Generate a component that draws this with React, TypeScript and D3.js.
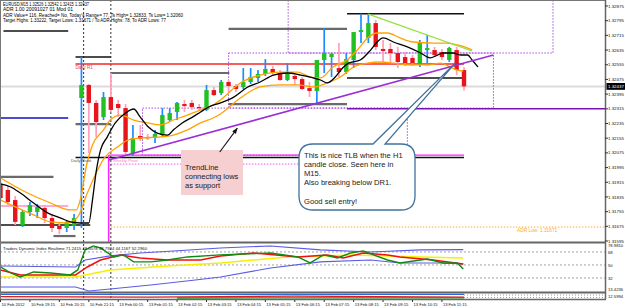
import React from "react";
import * as d3 from "d3";

// EURUSD M15 bars, 10 Feb 18:15 .. 13 Feb 12:00
const barTimes = [
  "10 Feb 18:15", "10 Feb 18:30", "10 Feb 18:45", "10 Feb 19:00", "10 Feb 19:15", "10 Feb 19:30", "10 Feb 19:45", "10 Feb 20:00",
  "10 Feb 20:15", "10 Feb 20:30", "10 Feb 20:45", "10 Feb 21:00", "10 Feb 21:15", "10 Feb 21:30", "10 Feb 21:45",
  "13 Feb 00:00", "13 Feb 00:15", "13 Feb 00:30", "13 Feb 00:45", "13 Feb 01:00", "13 Feb 01:15", "13 Feb 01:30", "13 Feb 01:45",
  "13 Feb 02:00", "13 Feb 02:15", "13 Feb 02:30", "13 Feb 02:45", "13 Feb 03:00", "13 Feb 03:15", "13 Feb 03:30", "13 Feb 03:45",
  "13 Feb 04:00", "13 Feb 04:15", "13 Feb 04:30", "13 Feb 04:45", "13 Feb 05:00", "13 Feb 05:15", "13 Feb 05:30", "13 Feb 05:45",
  "13 Feb 06:00", "13 Feb 06:15", "13 Feb 06:30", "13 Feb 06:45", "13 Feb 07:00", "13 Feb 07:15", "13 Feb 07:30", "13 Feb 07:45",
  "13 Feb 08:00", "13 Feb 08:15", "13 Feb 08:30", "13 Feb 08:45", "13 Feb 09:00", "13 Feb 09:15", "13 Feb 09:30", "13 Feb 09:45",
  "13 Feb 10:00", "13 Feb 10:15", "13 Feb 10:30", "13 Feb 10:45", "13 Feb 11:00", "13 Feb 11:15", "13 Feb 11:30", "13 Feb 11:45",
  "13 Feb 12:00",
];

const axisLabels = [
  "10 Feb 2012", "10 Feb 19:15", "10 Feb 20:15", "10 Feb 21:15", "13 Feb 00:15", "13 Feb 01:15", "13 Feb 02:15", "13 Feb 03:15",
  "13 Feb 04:15", "13 Feb 05:15", "13 Feb 06:15", "13 Feb 07:15", "13 Feb 08:15", "13 Feb 09:15", "13 Feb 10:15", "13 Feb 11:15",
];

const opens = [
  1.31906, 1.31873, 1.31818, 1.31682, 1.31753, 1.31753, 1.31775, 1.3172, 1.31677, 1.31666, 1.31677, 1.32374, 1.32445, 1.32347, 1.3227,
  1.32379, 1.32341, 1.32319, 1.32074, 1.32167, 1.32161, 1.32156, 1.32172, 1.32254, 1.32298, 1.32341, 1.32347, 1.32325, 1.32309, 1.32417,
  1.32401, 1.32461, 1.32439, 1.32434, 1.32461, 1.32483, 1.32505, 1.32532, 1.3251, 1.32472, 1.32494, 1.32477, 1.32428, 1.32412, 1.32581,
  1.32597, 1.32537, 1.32515, 1.32581, 1.32733, 1.32701, 1.32782, 1.32641, 1.32641, 1.32619, 1.32597, 1.32592, 1.32554, 1.32635, 1.32635,
  1.32624, 1.32581, 1.32635, 1.32526,
];
const highs = [
  1.31927, 1.31895, 1.3184, 1.31764, 1.31807, 1.31797, 1.31791, 1.31742, 1.31699, 1.31709, 1.31742, 1.32597, 1.3245, 1.32363, 1.32407,
  1.3251, 1.32363, 1.32341, 1.32227, 1.32227, 1.32178, 1.322, 1.32319, 1.32319, 1.32352, 1.32363, 1.32363, 1.32341, 1.32445, 1.32434,
  1.32472, 1.32472, 1.3245, 1.32537, 1.32537, 1.32526, 1.32586, 1.32548, 1.32526, 1.32564, 1.32499, 1.32488, 1.32461, 1.32581, 1.32755,
  1.32619, 1.32673, 1.32619, 1.32733, 1.32833, 1.32833, 1.32799, 1.3269, 1.32673, 1.32652, 1.32624, 1.32608, 1.3269, 1.32717, 1.32652,
  1.32641, 1.32652, 1.32652, 1.32542,
];
const lows = [
  1.31818, 1.31791, 1.31682, 1.31671, 1.31731, 1.3172, 1.31693, 1.31644, 1.31633, 1.31644, 1.31655, 1.31666, 1.32074, 1.32161, 1.32254,
  1.32298, 1.3227, 1.3206, 1.3206, 1.3214, 1.32145, 1.32129, 1.32161, 1.32243, 1.32254, 1.32298, 1.32309, 1.32309, 1.32303, 1.32385,
  1.3239, 1.32407, 1.32407, 1.32423, 1.3245, 1.32461, 1.32494, 1.32499, 1.32466, 1.32466, 1.32445, 1.32417, 1.32379, 1.32347, 1.3251,
  1.32488, 1.32488, 1.32505, 1.32537, 1.32673, 1.32673, 1.32635, 1.3257, 1.32564, 1.32537, 1.32548, 1.32548, 1.32543, 1.32564, 1.32597,
  1.32581, 1.3257, 1.32499, 1.32415,
];
const closes = [
  1.31829, 1.31807, 1.31699, 1.31753, 1.31791, 1.3178, 1.3172, 1.31666, 1.3166, 1.31699, 1.3172, 1.32445, 1.32347, 1.32243, 1.32379,
  1.32309, 1.32319, 1.3208, 1.32156, 1.32151, 1.32156, 1.32178, 1.32281, 1.32292, 1.32347, 1.3233, 1.32325, 1.32319, 1.32417, 1.3239,
  1.32461, 1.32439, 1.32423, 1.32461, 1.32488, 1.32505, 1.32532, 1.3251, 1.32472, 1.32505, 1.32477, 1.32423, 1.32412, 1.32581, 1.32619,
  1.32614, 1.32515, 1.32586, 1.32733, 1.32744, 1.32782, 1.32652, 1.3263, 1.32619, 1.3257, 1.32564, 1.32564, 1.32679, 1.32646, 1.32608,
  1.32597, 1.32646, 1.32526, 1.32437,
];

// [bar, price]
const maBlack = [
  [0, 1.31906], [1.4, 1.31889], [2.7, 1.31856], [4.5, 1.31802], [6.4, 1.31748], [8.2, 1.3172], [9.5, 1.31699], [10.9, 1.31693],
  [12.0, 1.31693], [12.5, 1.31818], [13.0, 1.31971], [13.6, 1.32091], [14.5, 1.32161], [15.6, 1.32238], [17.0, 1.32292],
  [18.1, 1.32314], [19.0, 1.3227], [20.1, 1.32216], [21.3, 1.32183], [22.7, 1.32172], [23.5, 1.322], [24.7, 1.32238],
  [26.1, 1.3227], [27.2, 1.32298], [28.3, 1.32325], [29.9, 1.32347], [31.7, 1.32379], [33.6, 1.32434], [35.3, 1.32461],
  [37.1, 1.32499], [39.0, 1.3251], [40.8, 1.32499], [42.1, 1.32488], [43.5, 1.32472], [44.4, 1.32456], [45.5, 1.32488],
  [46.5, 1.32537], [47.3, 1.32564], [48.9, 1.32581], [50.3, 1.32635], [51.2, 1.32679], [52.0, 1.32701], [53.4, 1.32679],
  [55.3, 1.32652], [57.1, 1.32619], [58.4, 1.32592], [59.4, 1.32608], [60.2, 1.32619], [61.5, 1.32619], [62.5, 1.32608],
  [63.5, 1.32608], [64.1, 1.32581], [64.9, 1.32543],
];
const bandUpper = [
  [0, 1.31938], [3.4, 1.31862], [6.8, 1.31802], [9.5, 1.31764], [10.3, 1.31764], [10.9, 1.31829], [11.7, 1.32009],
  [12.5, 1.32118], [14.0, 1.322], [14.9, 1.32254], [16.3, 1.32281], [18.1, 1.32254], [20.0, 1.32238], [21.7, 1.32227],
  [23.5, 1.32254], [25.4, 1.32281], [27.2, 1.32309], [28.9, 1.32336], [29.9, 1.32363], [32.6, 1.32456], [35.3, 1.32499],
  [38.0, 1.32515], [40.4, 1.32515], [42.1, 1.32488], [43.5, 1.32483], [45.2, 1.32543], [47.1, 1.32581], [48.5, 1.32635],
  [49.9, 1.32701], [51.2, 1.32728], [52.6, 1.32728], [54.3, 1.32701], [56.1, 1.32679], [58.8, 1.32673], [60.7, 1.32673],
  [62.1, 1.32663], [63.5, 1.32646], [64.1, 1.32635],
];
const bandLower = [
  [0, 1.31818], [4.5, 1.31737], [6.8, 1.31699], [9.1, 1.31693], [10.5, 1.31726], [11.8, 1.31856], [13.2, 1.31982],
  [14.1, 1.32047], [15.9, 1.32107], [17.3, 1.32145], [19.0, 1.32156], [21.3, 1.32161], [23.5, 1.32172], [25.4, 1.322],
  [27.2, 1.32238], [28.9, 1.32265], [29.9, 1.32287], [32.6, 1.32374], [35.3, 1.32434], [38.0, 1.32445], [40.4, 1.32445],
  [42.5, 1.32434], [44.4, 1.32456], [46.2, 1.32488], [48.0, 1.32543], [49.9, 1.32564], [51.6, 1.3257], [53.4, 1.32564],
  [55.3, 1.32554], [58.0, 1.32554], [59.8, 1.32564], [61.1, 1.32543], [62.1, 1.32526], [62.9, 1.32521],
];

// Traders Dynamic Index [bar, value]
const tdiUpper = [[0, 48.6], [10.2, 47.2], [11.5, 56.9], [14.9, 62.5], [19.0, 66.6], [23.5, 69.4], [29.9, 73.5], [36.7, 76.3], [43.5, 70.8], [50.3, 68.0], [57.1, 70.8], [62.9, 71.2]];
const tdiLower = [[0, 19.5], [10.2, 19.5], [12.0, 14.0], [14.9, 16.7], [20.4, 22.3], [26.5, 29.2], [29.9, 33.4], [36.7, 45.8], [43.5, 54.2], [50.3, 56.9], [54.3, 52.8], [59.8, 52.8], [62.9, 51.4]];
const tdiMid = [[0, 33.4], [10.2, 33.4], [14.9, 43.1], [22.7, 48.6], [29.9, 52.8], [39.0, 61.1], [48.0, 63.9], [57.1, 61.1], [62.9, 59.7]];
const tdiSignal = [
  [0, 43.1], [2.7, 36.2], [6.8, 36.2], [10.2, 36.2], [11.8, 47.2], [13.6, 56.9], [16.3, 63.9], [19.0, 59.7], [22.7, 56.9], [27.2, 56.9],
  [29.9, 62.5], [34.4, 66.6], [40.4, 61.1], [44.4, 63.9], [46.6, 59.7], [49.3, 66.6], [52.6, 63.9], [54.3, 61.1], [58.8, 56.9], [62.9, 51.4],
];
const tdiPrice = [
  [0, 47.2], [1.4, 38.9], [2.7, 33.4], [4.5, 40.3], [6.8, 38.9], [9.5, 36.2], [10.5, 43.1], [11.5, 70.8], [12.6, 76.3], [13.6, 73.5],
  [15.4, 61.1], [16.7, 63.9], [18.1, 54.2], [20.4, 54.2], [22.7, 56.9], [25.4, 61.1], [29.9, 63.9], [36.7, 66.6], [40.4, 61.1],
  [42.1, 52.8], [43.9, 63.9], [45.8, 59.7], [47.6, 66.6], [49.3, 69.4], [50.7, 63.9], [52.6, 56.9], [54.3, 52.8], [58.0, 58.3],
  [60.2, 52.8], [62.1, 52.8], [62.9, 44.5],
];
const tdiLevels = [68, 50, 32];
const tdiRange = [13.4236, 78.981];
const stripRange = [-1.5994, 12.5994];
const stripBlue = [[0, 10.5], [63, 10.5]];
const stripRed = [[0, 4.5], [20, 3.5], [40, 6], [63, 3]];
const stripGreen = [[24, 1], [63, 1.5]];

const priceTicks = [
  "1.32875", "1.32795", "1.32715", "1.32635", "1.32555", "1.32475", "1.32395", "1.32315", "1.32235",
  "1.32155", "1.32075", "1.31995", "1.31915", "1.31835", "1.31755", "1.31675", "1.31595",
];
const lastPrice = 1.32437;

// levels [price, fromBar, toBar]
const blackLevels = [[1.32739, 0.4, 9.2], [1.32597, 10.2, 15], [1.32833, 47.1, 63], [1.32483, 47.1, 63], [1.3205, 10.2, 63], [1.31682, 0, 12.2]];
const grayLevels = [[1.3251, 15, 31.1], [1.3275, 31, 47.1], [1.32341, 31, 47.1], [1.32232, 10.2, 15], [1.31944, 0, 7.2], [1.31622, 7.2, 10.2]];
const dailyR1 = [1.32559, 10.2, 63];
const weeklyPivot = [1.32063, 14.7, 63];
const pinkLevel = [1.31786, 0, 9.2];
const blueLevel = [1.32265, 0, 9.2];
const purpleLevel = [1.32315, 47.1];
const adrLow = [1.31671, 15];
// session boxes [fromBar, toBar, high, low]
const sessionBoxes = [[19.3, 55.3, 1.32319, 1.32063], [31.0, 67.0, 1.32619, 1.32319], [39.1, 75.1, 1.3300, 1.32619]];
const pinkDotted = [1.32014, 15, 55.3];
const separators = [11.3, 15];
const purpleTrend = [[14.7, 1.32036], [67.0, 1.32608]];
const greenTrend = [[50.0, 1.32831], [64.1, 1.3263]];
const arrowPts = [[29.8, 1.3208], [32.2, 1.3221]];
const tailApex = [61.8, 1.32564];

const headerLines = [
  "EURUSD,M15  1.32526 1.32542 1.32415 1.32437",
  "ADR 1.00 20091027 01 Mod 01",
  "ADR Value= 116, Reached= No, Today's Range= 77, Ts High= 1.32833, Ts Low= 1.32060",
  "Target Highs: 1.33222, Target Lows: 1.31671 / To ADR Highs: 78, To ADR Lows: 77",
];
const headerWidths = [86, 70, 180, 163];
const bubbleLines = ["This is nice TLB when the H1", "candle close. Seen here in", "M15.", "Also breaking below DR1.", "", "Good sell entry!"];
const noteLines = ["TrendLine", "connecting lows", "as support"];

const R = 605;
const MAIN_B = 242;
const TDI_T = 243;
const TDI_B = 292;
const STRIP_B = 299;
const FONT = "'Liberation Sans', Arial, sans-serif";

export default function App() {
  const x = d3.scaleLinear().domain([0, 63]).range([0.5, 464]);
  const y = d3.scaleLinear().domain([1.31595, 1.32875]).range([241, 6]);
  const yt = d3.scaleLinear().domain(tdiRange).range([291.4, 244]);
  const ys = d3.scaleLinear().domain(stripRange).range([299, 293.5]);

  const maLine = d3.line<number[]>().x((d) => x(d[0])).y((d) => y(d[1])).curve(d3.curveMonotoneX);
  const tdiLine = d3.line<number[]>().x((d) => x(d[0])).y((d) => yt(d[1]));
  const stripLine = d3.line<number[]>().x((d) => x(d[0])).y((d) => ys(d[1]));

  const seg = (lv: number[], color: string, w: number, dash?: string, key?: any) => (
    <line key={key} x1={x(lv[1])} x2={lv[2] == null ? R : x(lv[2])} y1={y(lv[0])} y2={y(lv[0])} stroke={color} strokeWidth={w} strokeDasharray={dash} />
  );

  const ax = tailApex;
  const bubble = `M313 144 L373 144 L${x(ax[0])} ${y(ax[1])} L385 144 L401 144 Q415 144 415 158 L415 196 Q415 210 401 210 L313 210 Q299 210 299 196 L299 158 Q299 144 313 144 Z`;

  const a0 = [x(arrowPts[0][0]), y(arrowPts[0][1])];
  const a1 = [x(arrowPts[1][0]), y(arrowPts[1][1])];
  const ang = Math.atan2(a1[1] - a0[1], a1[0] - a0[0]);
  const head = [
    [a1[0], a1[1]],
    [a1[0] - 6 * Math.cos(ang - 0.4), a1[1] - 6 * Math.sin(ang - 0.4)],
    [a1[0] - 6 * Math.cos(ang + 0.4), a1[1] - 6 * Math.sin(ang + 0.4)],
  ];

  return (
    <svg width={625} height={308} style={{ position: "absolute", left: 0, top: 0, background: "#fff" }} fontFamily={FONT}>
      <rect x={0} y={0} width={625} height={308} fill="#fff" />

      {/* bid line */}
      <line x1={0} x2={R} y1={y(lastPrice)} y2={y(lastPrice)} stroke="#dcdcdc" strokeWidth={2} />

      {/* session boxes */}
      {sessionBoxes.map((b, i) => (
        <rect key={i} x={x(b[0])} y={Math.max(-2, y(b[2]))} width={x(b[1]) - x(b[0])} height={y(b[3]) - Math.max(-2, y(b[2]))}
          fill="none" stroke="#a64ee0" strokeWidth={1} strokeDasharray="1.5,1.5" />
      ))}
      {seg(pinkDotted, "#ee55ee", 1, "1.5,1.5")}

      {/* day separators */}
      {separators.map((s, i) => (
        <line key={i} x1={x(s)} x2={x(s)} y1={0} y2={STRIP_B} stroke="#333" strokeWidth={1} strokeDasharray="2,2" />
      ))}

      {/* levels */}
      {seg(pinkLevel, "#ff8cc6", 1.5)}
      {seg(blueLevel, "#1010c0", 1.3)}
      {grayLevels.map((l, i) => seg(l, "#6a6a6a", 2.2, undefined, "g" + i))}
      {blackLevels.map((l, i) => seg(l, "#111", 1.4, undefined, "b" + i))}
      {seg(dailyR1, "#f02828", 1.4)}
      {seg(weeklyPivot, "#ff22ff", 1.4)}
      {seg([adrLow[0], adrLow[1], null], "#ffab2e", 1, "1.5,1.5")}
      <line x1={x(weeklyPivot[1])} x2={x(weeklyPivot[1])} y1={y(weeklyPivot[0])} y2={MAIN_B} stroke="#ff22ff" strokeWidth={1.5} />

      {/* candles */}
      {opens.map((o, i) => {
        const c = closes[i];
        const up = c >= o;
        const cx = x(i);
        const top = y(Math.max(o, c));
        const bot = y(Math.min(o, c));
        return (
          <g key={i}>
            <line x1={cx} x2={cx} y1={y(highs[i])} y2={y(lows[i])} stroke={up ? "#1e8cff" : "#ff9fb8"} strokeWidth={1.7} />
            <rect x={cx - 2.2} y={top} width={4.4} height={Math.max(1.2, bot - top)} fill={up ? "#22c022" : "#e8141c"} />
          </g>
        );
      })}

      {/* moving averages */}
      <path d={maLine(bandUpper)!} fill="none" stroke="#ffa200" strokeWidth={1.3} />
      <path d={maLine(bandLower)!} fill="none" stroke="#ffa200" strokeWidth={1.3} />
      <path d={maLine(maBlack)!} fill="none" stroke="#000" strokeWidth={1.3} />

      {/* trendlines */}
      <line x1={x(purpleTrend[0][0])} y1={y(purpleTrend[0][1])} x2={x(purpleTrend[1][0])} y2={y(purpleTrend[1][1])} stroke="#9b2fd6" strokeWidth={1.6} />
      <line x1={x(greenTrend[0][0])} y1={y(greenTrend[0][1])} x2={x(greenTrend[1][0])} y2={y(greenTrend[1][1])} stroke="#8fe03a" strokeWidth={1.2} />
      {seg([purpleLevel[0], purpleLevel[1], null], "#7a10b8", 1.6)}

      {/* labels */}
      <text x={x(dailyR1[1])} y={y(dailyR1[0]) + 5} fontSize={4.6} fill="#f04040">Daily R1</text>
      <text x={71} y={y(blackLevels[4][0]) + 5} fontSize={4.3} fill="#555">Daily Pivot</text>
      <text x={113} y={y(blackLevels[4][0]) + 5} fontSize={4.3} fill="#ff77bb">Weekly Pivot</text>
      <text x={517} y={y(adrLow[0]) + 5} fontSize={4.8} fill="#ffab2e">ADR Low: 1.31671</text>

      {/* note box */}
      <rect x={181} y={150} width={62} height={45} fill="#f6cfd0" />
      {noteLines.map((t, i) => (
        <text key={i} x={185} y={169.5 + i * 9} fontSize={7.5} fill="#1a1a1a">{t}</text>
      ))}
      <line x1={a0[0]} y1={a0[1]} x2={a1[0]} y2={a1[1]} stroke="#111" strokeWidth={1.1} />
      <polygon points={head.map((p) => p.join(",")).join(" ")} fill="#111" />

      {/* callout */}
      <path d={bubble} fill="#fff" stroke="#41719c" strokeWidth={1.3} />
      {bubbleLines.map((t, i) => (
        <text key={i} x={304} y={157.5 + i * 9.2} fontSize={7.6} fill="#1a1a1a">{t}</text>
      ))}

      {/* header */}
      {headerLines.map((t, i) => (
        <text key={i} x={3} y={5.8 + i * 5.4} fontSize={4.8} fill="#000" textLength={headerWidths[i]} lengthAdjust="spacingAndGlyphs">{t}</text>
      ))}

      {/* TDI panel */}
      {tdiLevels.map((l) => (
        <line key={l} x1={0} x2={R} y1={yt(l)} y2={yt(l)} stroke="#8a8a8a" strokeWidth={0.8} strokeDasharray="2,2" />
      ))}
      <path d={tdiLine(tdiUpper)!} fill="none" stroke="#5b5be6" strokeWidth={1.1} />
      <path d={tdiLine(tdiLower)!} fill="none" stroke="#5b5be6" strokeWidth={1.1} />
      <path d={tdiLine(tdiMid)!} fill="none" stroke="#f5f000" strokeWidth={1.5} />
      <path d={tdiLine(tdiSignal)!} fill="none" stroke="#f01010" strokeWidth={1.5} />
      <path d={tdiLine(tdiPrice)!} fill="none" stroke="#108a10" strokeWidth={1.4} />
      <text x={3} y={249.5} fontSize={4.4} fill="#111" textLength={144} lengthAdjust="spacingAndGlyphs">
        Traders Dynamic Index Realtime 71.2415 48.0078 48.7924 44.1167 52.2960
      </text>

      {/* bottom strip */}
      <path d={stripLine(stripBlue)!} fill="none" stroke="#2a6ad8" strokeWidth={1.3} />
      <path d={stripLine(stripRed)!} fill="none" stroke="#e01818" strokeWidth={1.3} />
      <path d={stripLine(stripGreen)!} fill="none" stroke="#109010" strokeWidth={1.3} />
      <line x1={x(63)} x2={R} y1={295} y2={295} stroke="#999" strokeDasharray="1,2" />
      <line x1={x(63)} x2={R} y1={297.5} y2={297.5} stroke="#999" strokeDasharray="1,2" />

      {/* borders */}
      <rect x={0.5} y={0.5} width={R} height={MAIN_B} fill="none" stroke="#777" strokeWidth={1} />
      <line x1={0} x2={R + 1} y1={MAIN_B + 0.5} y2={MAIN_B + 0.5} stroke="#666" strokeWidth={2} />
      <line x1={0} x2={R + 1} y1={TDI_B + 0.5} y2={TDI_B + 0.5} stroke="#666" strokeWidth={2} />
      <line x1={0} x2={R + 1} y1={STRIP_B + 0.5} y2={STRIP_B + 0.5} stroke="#666" strokeWidth={1.5} />
      <line x1={R + 0.5} x2={R + 0.5} y1={0} y2={STRIP_B} stroke="#666" strokeWidth={1.5} />
      <line x1={0.5} x2={0.5} y1={0} y2={STRIP_B} stroke="#777" strokeWidth={1} />

      {/* price axis */}
      {priceTicks.map((t) => (
        <g key={t}>
          <line x1={R} x2={R + 3} y1={y(+t)} y2={y(+t)} stroke="#333" />
          <text x={608} y={y(+t) + 1.6} fontSize={4.4} fill="#111">{t}</text>
        </g>
      ))}
      <rect x={606.5} y={y(lastPrice) - 3.4} width={18.5} height={6.8} fill="#000" />
      <text x={608} y={y(lastPrice) + 1.6} fontSize={4.4} fill="#fff">{lastPrice.toFixed(5)}</text>

      {/* TDI axis */}
      <text x={608} y={yt(tdiRange[1]) + 2.5} fontSize={4.2} fill="#111">{tdiRange[1].toFixed(4)}</text>
      {tdiLevels.map((l) => (
        <text key={l} x={608} y={yt(l) + 1.6} fontSize={4.2} fill="#111">{l}</text>
      ))}
      <text x={608} y={yt(tdiRange[0]) - 0.5} fontSize={4.2} fill="#111">{tdiRange[0].toFixed(4)}</text>
      <text x={608} y={297.5} fontSize={4.2} fill="#111">{stripRange[1].toFixed(4)}</text>

      {/* time axis */}
      {axisLabels.map((t, i) => {
        const idx = i === 0 ? 0 : barTimes.indexOf(t);
        const px = x(idx);
        return (
          <g key={t}>
            <line x1={px} x2={px} y1={STRIP_B + 1} y2={STRIP_B + 3} stroke="#333" />
            <text x={px + 1} y={306} fontSize={4.1} fill="#111">{t}</text>
          </g>
        );
      })}
    </svg>
  );
}
